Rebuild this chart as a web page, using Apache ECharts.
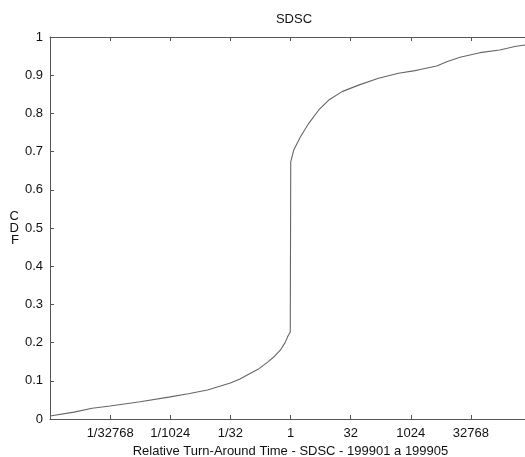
<!DOCTYPE html>
<html>
<head>
<meta charset="utf-8">
<script src="https://cdn.jsdelivr.net/npm/echarts@6/dist/echarts.min.js"></script>
<style>
  html, body { margin: 0; padding: 0; background: #fff; }
  #chart { width: 525px; height: 457px; }
</style>
</head>
<body>
<div id="chart"></div>
<script>
// x positions as powers of two (log2 of relative turn-around time)
const xLog2 = [-20, -18, -16.5, -15, -12.5, -10, -8.5, -6.9, -5, -4.2, -3.6, -2.7, -1.9, -1.3,
               -0.85, -0.45, -0.2, -0.02,
               0.02, 0.27, 0.83, 1.52, 2.35, 3.18, 4.29, 5.66, 7.32, 8.98, 10.36, 10.78,
               12.16, 12.99, 14.1, 15.75, 17.4, 18.66, 19.5, 20];
const cdf = [0.008, 0.018, 0.028, 0.034, 0.045, 0.058, 0.066, 0.076, 0.094, 0.105, 0.115, 0.13, 0.149, 0.165,
             0.18, 0.2, 0.218, 0.228,
             0.673, 0.704, 0.739, 0.774, 0.809, 0.835, 0.857, 0.874, 0.892, 0.905, 0.912, 0.915,
             0.924, 0.935, 0.947, 0.959, 0.966, 0.975, 0.979, 0.981];
const titleText = 'SDSC';
const xName = 'Relative Turn-Around Time - SDSC - 199901 a 199905';
const yName = 'C\nD\nF';

const chart = echarts.init(document.getElementById('chart'));
const data = xLog2.map((e, i) => [Math.pow(2, e), cdf[i]]);

const axisColor = '#555';
const textStyle = { color: '#111', fontSize: 13, fontFamily: 'Liberation Sans, Arial, sans-serif' };

function fmt(v) {
  if (v < 1) return '1/' + Math.round(1 / v);
  return String(Math.round(v));
}

const xCommon = {
  type: 'log',
  logBase: 2,
  min: Math.pow(2, -20),
  max: Math.pow(2, 20),
  interval: 5,
  axisLine: { show: true, lineStyle: { color: axisColor, width: 1 } },
  axisTick: { show: true, inside: true, length: 4, lineStyle: { color: axisColor } },
  splitLine: { show: false },
  minorTick: { show: false }
};

chart.setOption({
  animation: false,
  backgroundColor: '#fff',
  title: {
    text: titleText,
    left: 289, top: 8,
    textAlign: 'center',
    textStyle: { color: '#111', fontSize: 13, fontWeight: 'normal', fontFamily: 'Liberation Sans, Arial, sans-serif' }
  },
  grid: { left: 50, top: 37, width: 481, height: 382, outerBoundsMode: 'none', containLabel: false },
  xAxis: [
    Object.assign({}, xCommon, {
      position: 'bottom',
      name: xName,
      nameLocation: 'middle',
      nameGap: 25,
      nameTextStyle: textStyle,
      axisLabel: Object.assign({ margin: 8, showMinLabel: false, showMaxLabel: false, formatter: fmt }, textStyle)
    }),
    Object.assign({}, xCommon, {
      position: 'top',
      axisLabel: { show: false }
    })
  ],
  yAxis: {
    type: 'value',
    min: 0, max: 1, interval: 0.1,
    name: yName,
    nameLocation: 'middle',
    nameRotate: 0,
    nameGap: 31,
    nameTextStyle: Object.assign({ lineHeight: 12 }, textStyle),
    axisLine: { show: true, lineStyle: { color: axisColor, width: 1 } },
    axisTick: { show: true, inside: true, length: 4, lineStyle: { color: axisColor } },
    axisLabel: Object.assign({ margin: 7 }, textStyle),
    splitLine: { show: false }
  },
  series: [{
    type: 'line',
    data: data,
    showSymbol: false,
    smooth: false,
    clip: true,
    lineStyle: { color: '#666', width: 1.1 }
  }]
});
</script>
</body>
</html>
